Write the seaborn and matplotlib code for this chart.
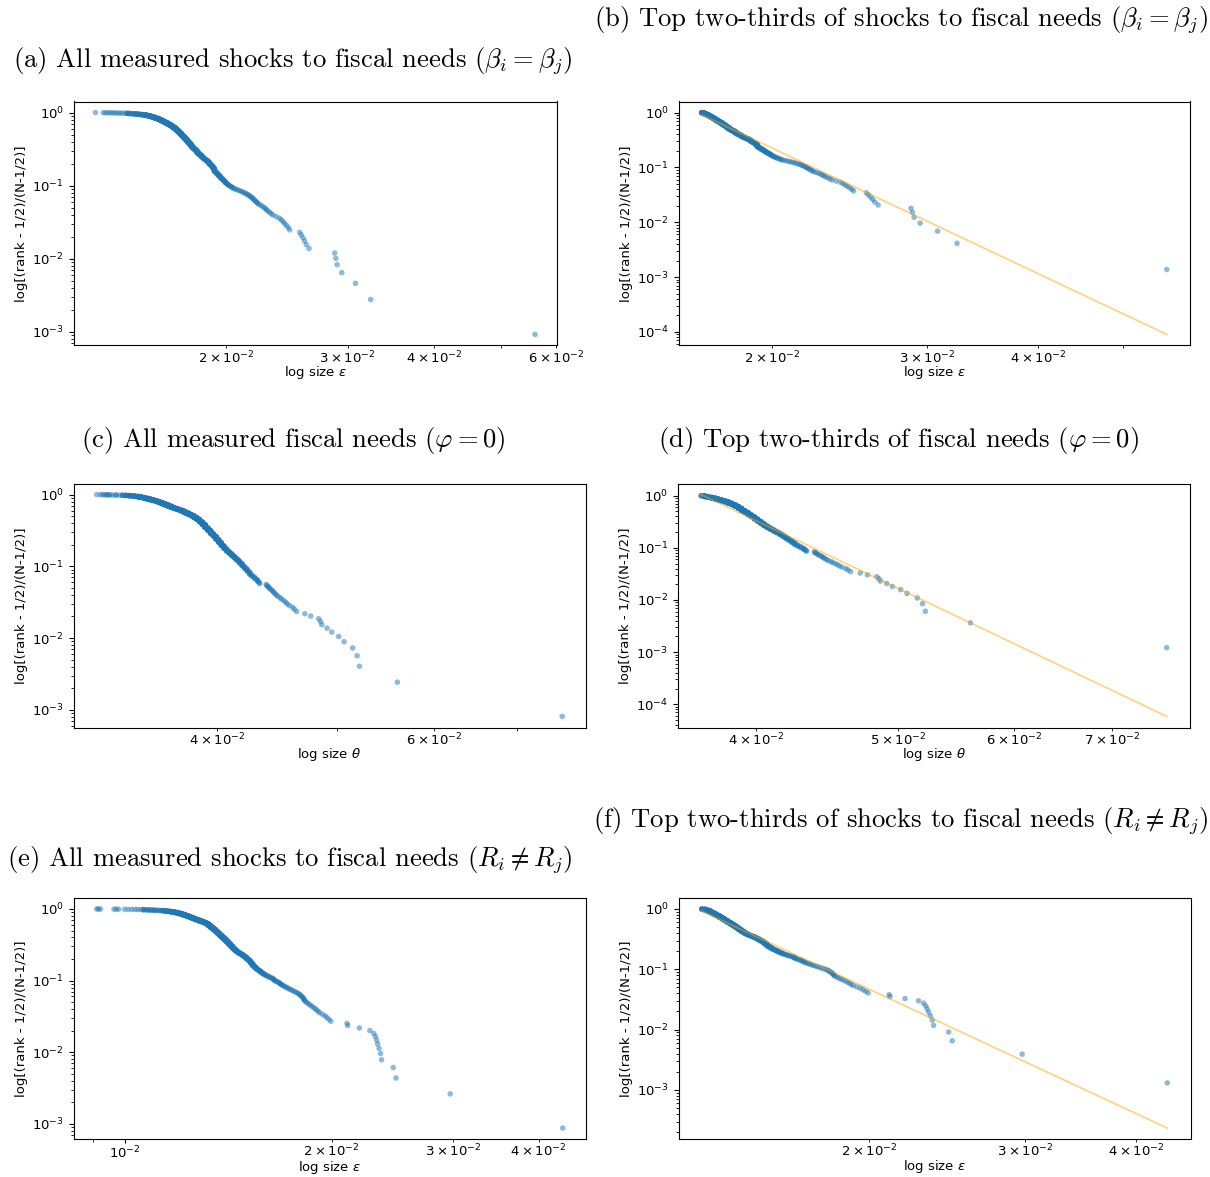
import numpy as np
import matplotlib
matplotlib.use("Agg")
import matplotlib.pyplot as plt
import seaborn as sns

# ---------------------------------------------------------------------------
# Measured sizes, sorted from largest to smallest, in units of 1e-5.
# *_SINGLE : individually visible observations
# *_GROUP_X / *_GROUP_N : size value and number of observations sharing it
# ---------------------------------------------------------------------------

# shocks to fiscal needs, beta_i = beta_j
EPS_BETA_SINGLE = [5600, 3240, 3080, 2943, 2897, 2885, 2874, 2638, 2615, 2600,
                   2586, 2571, 2558, 2474, 2462, 2448, 2433, 2420, 2406, 2390,
                   2365, 2340, 2327, 2313, 2300, 2290, 2280, 2270, 2257, 2243,
                   2230, 2222, 2215, 2207, 2200, 2193, 2187, 2180, 2172, 2164,
                   2156, 2148, 2137, 2126, 2116, 2105, 2093, 2081, 2069, 2057,
                   2050, 2043, 2037, 2030, 2023, 2018, 2014, 2009, 2005, 2000]
EPS_BETA_GROUP_X = [1995, 1985, 1975, 1965, 1955, 1945, 1935, 1925, 1915, 1905,
                    1895, 1885, 1875, 1865, 1855, 1845, 1835, 1825, 1815, 1805,
                    1795, 1785, 1775, 1765, 1755, 1745, 1735, 1725, 1715, 1705,
                    1695, 1685, 1675, 1665, 1655, 1645, 1635, 1625, 1615, 1605,
                    1595, 1585, 1575, 1565, 1555, 1545, 1535, 1525, 1515, 1505,
                    1495, 1485, 1475, 1465, 1455, 1445, 1435]
EPS_BETA_GROUP_N = [3, 3, 3, 4, 4, 4, 4, 10, 6, 5,
                    7, 6, 4, 5, 6, 8, 5, 9, 11, 7,
                    9, 14, 13, 13, 14, 14, 14, 17, 16, 15,
                    17, 14, 14, 12, 13, 12, 12, 12, 12, 12,
                    10, 10, 9, 9, 8, 7, 7, 4, 4, 3,
                    4, 3, 3, 2, 2, 3, 2]
EPS_BETA_SMALLEST = [1420, 1410, 1400, 1390, 1380, 1370, 1360, 1350, 1340, 1330, 1296]

# fiscal needs, phi = 0
THETA_SINGLE = [7623, 5601, 5218, 5195, 5152, 5070, 5019, 4954, 4911, 4863,
                4851, 4835, 4764, 4711, 4640, 4620, 4606, 4578, 4560, 4545,
                4530, 4511, 4500, 4480, 4470, 4458, 4448, 4440, 4432, 4420,
                4410, 4403, 4395, 4388, 4382, 4330, 4327, 4322]
THETA_GROUP_X = [4310, 4290, 4270, 4250, 4230, 4210, 4190, 4170, 4150, 4130,
                 4110, 4090, 4070, 4050, 4030, 4010, 3990, 3970, 3950, 3930,
                 3910, 3890, 3870, 3850, 3830, 3810, 3790, 3770, 3750, 3730,
                 3710, 3690, 3670, 3650, 3630, 3610, 3590, 3570, 3550, 3530,
                 3510, 3490, 3470, 3450, 3430, 3410, 3390, 3370, 3350, 3330,
                 3310, 3290]
THETA_GROUP_N = [3, 3, 3, 5, 5, 5, 6, 6, 6, 6,
                 7, 7, 9, 11, 13, 14, 16, 14, 19, 17,
                 23, 21, 21, 17, 18, 14, 14, 14, 16, 12,
                 12, 14, 16, 17, 17, 17, 17, 16, 13, 13,
                 13, 14, 11, 9, 7, 5, 5, 4, 3, 1,
                 2, 1]
THETA_SMALLEST = [3275, 3266, 3258, 3250, 3240, 3228, 3215, 3193]

# shocks to fiscal needs, R_i != R_j
EPS_R_SINGLE = [4336, 2975, 2481, 2458, 2364, 2356, 2344, 2333, 2325, 2316,
                2303, 2273, 2195, 2111, 2106, 1995, 1982, 1968, 1955, 1938,
                1920, 1910, 1900, 1890, 1879, 1868, 1857, 1848, 1839, 1830,
                1826, 1822, 1819, 1815, 1809, 1803, 1798, 1792, 1783, 1774,
                1765, 1756, 1747, 1739, 1730, 1723, 1716, 1709, 1702, 1695,
                1690, 1686, 1681, 1677, 1672, 1666, 1659, 1653, 1650, 1646]
EPS_R_GROUP_X = [1643, 1635, 1625, 1615, 1605, 1595, 1585, 1575, 1565, 1555,
                 1545, 1535, 1525, 1515, 1505, 1495, 1485, 1475, 1465, 1455,
                 1445, 1435, 1425, 1415, 1405, 1395, 1385, 1375, 1365, 1355,
                 1345, 1335, 1325, 1315, 1305, 1295, 1285, 1275, 1265, 1255,
                 1245, 1235, 1225, 1215, 1205, 1195, 1185, 1175, 1165, 1155,
                 1145, 1135, 1125, 1115, 1105, 1095, 1085, 1075, 1065, 1055,
                 1045, 1035]
EPS_R_GROUP_N = [2, 1, 2, 2, 2, 3, 3, 4, 3, 5,
                 5, 8, 8, 6, 7, 6, 6, 5, 6, 8,
                 10, 12, 13, 14, 14, 14, 15, 17, 18, 18,
                 17, 20, 20, 14, 11, 10, 11, 11, 12, 13,
                 14, 13, 13, 13, 10, 10, 9, 7, 6, 5,
                 5, 4, 2, 2, 3, 2, 3, 2, 3, 1,
                 1, 1]
EPS_R_SMALLEST = [1024, 1012, 1000, 980, 972, 965, 922, 916, 911]

# power-law fits on the top two-thirds: log10(y) = FIT_A + FIT_B * log10(size)
FIT_A = {"beta": -13.558, "theta": -19.212, "R": -12.967}
FIT_B = {"beta": -7.60, "theta": -13.40, "R": -6.85}

TITLES = {
    "a": r"(a) All measured shocks to fiscal needs $(\beta_i = \beta_j)$",
    "b": r"(b) Top two-thirds of shocks to fiscal needs $(\beta_i = \beta_j)$",
    "c": r"(c) All measured fiscal needs $(\varphi = 0)$",
    "d": r"(d) Top two-thirds of fiscal needs $(\varphi = 0)$",
    "e": r"(e) All measured shocks to fiscal needs $(R_i \neq R_j)$",
    "f": r"(f) Top two-thirds of shocks to fiscal needs $(R_i \neq R_j)$",
}
YLABEL = "log[(rank - 1/2)/(N-1/2)]"
XLABEL_EPS = r"log size $\epsilon$"
XLABEL_THETA = r"log size $\theta$"


def build_sizes(single, group_x, group_n, smallest):
    vals = np.concatenate([np.asarray(single, float),
                           np.repeat(np.asarray(group_x, float), group_n),
                           np.asarray(smallest, float)])
    return vals * 1e-5


def rank_size(sizes):
    s = np.sort(sizes)[::-1]
    n = len(s)
    rank = np.arange(1, n + 1)
    return s, (rank - 0.5) / (n - 0.5)


def top_two_thirds(sizes):
    s = np.sort(sizes)[::-1]
    return s[:int(round(2 * len(s) / 3))]


plt.rcParams["font.size"] = 9.5
TICK_FS = 9.5
LABEL_FS = 9.5

fig = plt.figure(figsize=(12.10, 11.77), dpi=100)

W, H = 1210.0, 1177.0


def add_axes(left, right, top, bottom):
    return fig.add_axes([left / W, 1 - bottom / H, (right - left) / W, (bottom - top) / H])


def draw_panel(ax, sizes, xlabel, fit_key=None):
    s, y = rank_size(sizes)
    sns.scatterplot(x=s, y=y, ax=ax, s=16, color="#1f77b4", alpha=0.5,
                    linewidth=0, edgecolor="none")
    if fit_key is not None:
        xs = np.array([s.min(), s.max()])
        ys = 10 ** (FIT_A[fit_key] + FIT_B[fit_key] * np.log10(xs))
        sns.lineplot(x=xs, y=ys, ax=ax, color="orange", alpha=0.5, lw=1.2)
    ax.set_xscale("log")
    ax.set_yscale("log")
    ax.set_xlabel(xlabel, fontsize=LABEL_FS, labelpad=-1.5)
    ax.set_ylabel(YLABEL, fontsize=LABEL_FS, labelpad=3)
    ax.tick_params(labelsize=TICK_FS)
    ax.tick_params(axis="x", which="major", length=3, pad=1)
    ax.tick_params(axis="x", which="minor", length=2, pad=1)


eps_beta = build_sizes(EPS_BETA_SINGLE, EPS_BETA_GROUP_X, EPS_BETA_GROUP_N, EPS_BETA_SMALLEST)
theta = build_sizes(THETA_SINGLE, THETA_GROUP_X, THETA_GROUP_N, THETA_SMALLEST)
eps_r = build_sizes(EPS_R_SINGLE, EPS_R_GROUP_X, EPS_R_GROUP_N, EPS_R_SMALLEST)

ax_a = add_axes(73.5, 557, 101.5, 345.5)
ax_b = add_axes(678.5, 1190, 101.5, 345.5)
ax_c = add_axes(73.5, 585.5, 483.5, 727.5)
ax_d = add_axes(678, 1190, 483.5, 727.5)
ax_e = add_axes(73.5, 586, 898, 1139)
ax_f = add_axes(678.5, 1190.5, 898, 1139)

draw_panel(ax_a, eps_beta, XLABEL_EPS)
draw_panel(ax_b, top_two_thirds(eps_beta), XLABEL_EPS, "beta")
draw_panel(ax_c, theta, XLABEL_THETA)
draw_panel(ax_d, top_two_thirds(theta), XLABEL_THETA, "theta")
draw_panel(ax_e, eps_r, XLABEL_EPS)
draw_panel(ax_f, top_two_thirds(eps_r), XLABEL_EPS, "R")

# sub-figure captions
cap_kw = dict(ha="center", va="center", fontsize=19.2, family="cmr10", math_fontfamily="cm")
fig.text(293 / W, 1 - 61 / H, TITLES["a"], **cap_kw)
fig.text(901 / W, 1 - 20 / H, TITLES["b"], **cap_kw)
fig.text(293 / W, 1 - 440 / H, TITLES["c"], **cap_kw)
fig.text(898 / W, 1 - 440 / H, TITLES["d"], **cap_kw)
fig.text(290 / W, 1 - 860 / H, TITLES["e"], **cap_kw)
fig.text(901 / W, 1 - 821 / H, TITLES["f"], **cap_kw)

fig.savefig("out.png", dpi=100, facecolor="white")
